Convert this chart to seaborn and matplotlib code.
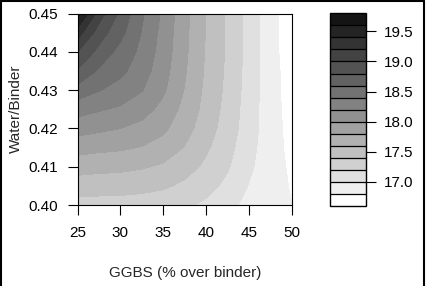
import matplotlib
matplotlib.use("Agg")
import matplotlib.pyplot as plt
from matplotlib.lines import Line2D
import numpy as np
import seaborn as sns

# GGBS content (% over binder) and water/binder ratio of the grid
ggbs = [25, 27.5, 30, 32.5, 35, 37.5, 40, 42.5, 45, 47.5, 50]
water_binder = [0.400, 0.405, 0.410, 0.415, 0.420, 0.425, 0.430, 0.435, 0.440, 0.445, 0.450]

# response, one row per water/binder value
strength = [
    [17.33, 17.32, 17.32, 17.31, 17.28, 17.24, 17.16, 17.07, 16.93, 16.90, 16.80],
    [17.50, 17.49, 17.48, 17.46, 17.43, 17.36, 17.27, 17.15, 16.99, 16.90, 16.78],
    [17.68, 17.66, 17.65, 17.62, 17.57, 17.48, 17.36, 17.22, 17.03, 16.90, 16.76],
    [17.88, 17.85, 17.83, 17.79, 17.72, 17.59, 17.43, 17.27, 17.06, 16.89, 16.74],
    [18.08, 18.04, 18.00, 17.94, 17.84, 17.68, 17.49, 17.31, 17.09, 16.89, 16.73],
    [18.28, 18.22, 18.17, 18.08, 17.94, 17.74, 17.53, 17.33, 17.10, 16.88, 16.72],
    [18.52, 18.41, 18.32, 18.21, 18.03, 17.79, 17.55, 17.35, 17.11, 16.88, 16.71],
    [18.78, 18.57, 18.45, 18.29, 18.08, 17.82, 17.57, 17.36, 17.12, 16.88, 16.70],
    [19.00, 18.74, 18.53, 18.35, 18.11, 17.84, 17.58, 17.37, 17.12, 16.87, 16.69],
    [19.30, 18.90, 18.66, 18.39, 18.13, 17.85, 17.59, 17.37, 17.12, 16.87, 16.68],
    [19.68, 19.10, 18.75, 18.43, 18.16, 17.86, 17.59, 17.37, 17.12, 16.87, 16.67],
]

levels = [16.6, 16.8, 17.0, 17.2, 17.4, 17.6, 17.8, 18.0, 18.2, 18.4,
          18.6, 18.8, 19.0, 19.2, 19.4, 19.6, 19.8]
x_ticks = [25, 30, 35, 40, 45, 50]
y_ticks = [0.40, 0.41, 0.42, 0.43, 0.44, 0.45]
cbar_ticks = [17.0, 17.5, 18.0, 18.5, 19.0, 19.5]

sns.set_style("ticks")
plt.rcParams["font.family"] = ["Liberation Sans", "DejaVu Sans"]
plt.rcParams["font.size"] = 11

fig = plt.figure(figsize=(4.27, 2.86), dpi=100)
ax = fig.add_axes([0.1815, 0.2832, 0.5023, 0.6689])
cax = fig.add_axes([0.7717, 0.2797, 0.0855, 0.6738])

greys = sns.blend_palette(["#ffffff", "#141414"], n_colors=len(levels) - 1)
X, Y = np.meshgrid(ggbs, water_binder)
cs = ax.contourf(X, Y, np.array(strength), levels=levels, colors=greys)

ax.set_xlim(25, 50)
ax.set_ylim(0.40, 0.45)
ax.set_xticks(x_ticks)
ax.set_xticklabels([str(t) for t in x_ticks])
ax.set_yticks(y_ticks)
ax.set_yticklabels([f"{t:.2f}" for t in y_ticks])
ax.tick_params(axis="x", length=7, width=0.8, pad=8, colors="black", labelsize=11)
ax.tick_params(axis="y", length=7, width=0.8, pad=7, colors="black", labelsize=11)
for sp in ax.spines.values():
    sp.set_color("black")
    sp.set_linewidth(0.8)

cb = fig.colorbar(cs, cax=cax, ticks=cbar_ticks, drawedges=True)
cb.ax.set_yticklabels([f"{t:.1f}" for t in cbar_ticks])
cb.outline.set_edgecolor("black")
cb.outline.set_linewidth(1.0)
cb.dividers.set_color("black")
cb.dividers.set_linewidth(0.9)
cax.tick_params(length=7, width=0.8, pad=6, colors="black", labelsize=11)

fig.text(185 / 427, 1 - 277 / 286, "GGBS (% over binder)", ha="center", va="baseline", fontsize=11)
fig.text(16 / 427, 1 - 109 / 286, "Water/Binder", ha="center", va="center", rotation=90, fontsize=11)

# outer frame of the original image
for xs, ys in [([0.002, 0.002], [0, 0.998]), ([0.002, 0.992], [0.998, 0.998]), ([0.992, 0.992], [0, 0.998])]:
    fig.add_artist(Line2D(xs, ys, transform=fig.transFigure, color="black", lw=1.5))

fig.savefig("out.png", dpi=100)
